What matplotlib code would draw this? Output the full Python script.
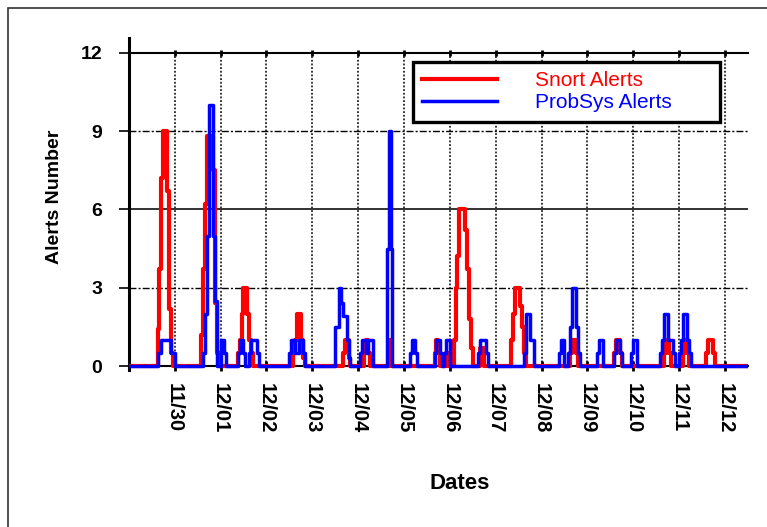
import numpy as np
import matplotlib
matplotlib.use('Agg')
import matplotlib.pyplot as plt
from matplotlib.patches import Rectangle

# hourly alert counts, hour 0 = start of 11/29 (only non-zero hours listed)
snort_hours = [15, 16, 17, 18, 19, 20, 21, 22,
               38, 39, 40, 41, 42, 43, 44, 45, 46,
               57, 58, 59, 60, 61, 62, 63, 64,
               86, 87, 88, 89, 90, 91,
               112, 113, 114, 115,
               123, 124, 125,
               136,
               160, 161, 162, 166,
               170, 171, 172, 173, 174, 175, 176, 177, 178, 179,
               184, 185,
               200, 201, 202, 203, 204, 205, 206, 207,
               231, 232, 233, 234,
               254, 255, 256, 257,
               280, 281, 282, 283, 290, 291, 292,
               302, 303, 304, 305, 306]
snort_counts = [1.4, 3.7, 7.2, 9, 9, 6.7, 2.2, 0.5,
                1.2, 3.7, 6.2, 8.8, 8.8, 8.8, 7.5, 2.4, 0.5,
                0.5, 1, 2, 3, 3, 2, 1, 0.5,
                0.5, 1, 2, 2, 1, 0.3,
                0.5, 1, 1, 0.3,
                0.5, 1, 0.5,
                1,
                0.5, 1, 0.5, 0.5,
                1, 3, 4.2, 6, 6, 6, 5.2, 3.7, 1.8, 0.7,
                0.7, 0.7,
                1, 2, 3, 3, 3, 2.3, 1.5, 0.5,
                0.5, 1, 1, 0.5,
                0.5, 1, 1, 0.5,
                0.5, 1, 1, 0.5, 0.5, 1, 0.5,
                0.5, 1, 1, 1, 0.5]

probsys_hours = [15, 16, 17, 18, 19, 20, 21, 22, 23,
                 39, 40, 41, 42, 43, 44, 45,
                 48, 49, 50,
                 57, 58, 59, 60, 63, 64, 65, 66, 67,
                 84, 85, 86, 87, 88, 89, 90, 91,
                 108, 109, 110, 111, 112, 113, 114, 115,
                 121, 122, 123, 124, 125, 126, 127,
                 135, 136, 137,
                 147, 148, 149, 150,
                 160, 161, 162, 163, 165, 166, 167,
                 183, 184, 185, 186, 187,
                 207, 208, 209, 210, 211,
                 225, 226, 227,
                 230, 231, 232, 233, 234, 235,
                 245, 246, 247,
                 254, 255, 256, 257,
                 263, 264, 265,
                 278, 279, 280, 281, 282, 283, 284, 285,
                 288, 289, 290, 291, 292, 293]
probsys_counts = [0.5, 0.5, 1, 1, 1, 1, 1, 0.5, 0.5,
                  0.5, 2, 5, 10, 10, 5, 2.5,
                  1, 1, 0.5,
                  0.5, 1, 1, 0.5, 0.5, 1, 1, 1, 0.5,
                  0.5, 1, 1, 0.5, 0.5, 1, 1, 0.5,
                  1.5, 1.5, 3, 2.4, 1.9, 1.9, 1, 0.3,
                  0.5, 1, 1, 0.5, 1, 1, 1,
                  4.5, 9, 4.5,
                  0.5, 1, 1, 0.5,
                  0.5, 1, 1, 0.5, 0.5, 1, 1,
                  0.5, 1, 1, 1, 0.5,
                  0.5, 2, 2, 1, 1,
                  0.5, 1, 1,
                  0.5, 1.5, 3, 3, 1.5, 0.5,
                  0.5, 1, 1,
                  0.5, 1, 1, 0.5,
                  0.5, 1, 1,
                  0.5, 1, 2, 2, 1, 1, 1, 0.5,
                  0.5, 1, 2, 2, 1, 0.5]

date_labels = ['11/30', '12/01', '12/02', '12/03', '12/04', '12/05', '12/06',
               '12/07', '12/08', '12/09', '12/10', '12/11', '12/12']
n_hours = 325

snort = np.zeros(n_hours)
snort[snort_hours] = snort_counts
probsys = np.zeros(n_hours)
probsys[probsys_hours] = probsys_counts
days = np.arange(n_hours) / 24.0
day_ticks = np.arange(1, len(date_labels) + 1)

plt.rcParams['font.family'] = ['Liberation Sans', 'DejaVu Sans']

fig = plt.figure(figsize=(7.67, 5.27), dpi=100)
ax = fig.add_axes([0.168, 0.298, 0.807, 0.630])

# outer frame of the picture
fig.patches.append(Rectangle((0.0104, -0.05), 1.2, 0.05 + 0.985, transform=fig.transFigure,
                             fill=False, edgecolor='#333333', lw=1.2))

# grid
ax.vlines(day_ticks, 0, 12, colors='black', linestyles=(0, (1.2, 1.2)), lw=1.1, zorder=1)
ax.hlines([3, 9], 0, 13.5, colors='black', linestyles=(0, (5, 1.5, 1.5, 1.5)), lw=1.0, zorder=1)
ax.axhline(6, color='#222222', lw=1.3, zorder=1)

ax.plot(days, snort, color='red', lw=3.0, drawstyle='steps-post', label='Snort Alerts', zorder=3)
ax.plot(days, probsys, color='blue', lw=2.5, drawstyle='steps-post', label='ProbSys Alerts', zorder=4)

ax.set_xlim(0, 13.5)
ax.set_ylim(-0.15, 12.57)
ax.spines['right'].set_visible(False)
ax.spines['top'].set_position(('data', 12))
ax.spines['top'].set_linewidth(1.5)
ax.spines['bottom'].set_position(('data', 0))
ax.spines['bottom'].set_linewidth(1.5)
ax.spines['left'].set_linewidth(2.2)

ax.set_yticks([0, 3, 6, 9, 12])
ax.set_xticks(day_ticks)
ax.set_xticklabels(date_labels, rotation=270, fontweight='bold', fontsize=14.5)
ax.set_yticklabels(['0', '3', '6', '9', '12'], fontweight='bold', fontsize=14)
ax.tick_params(axis='y', direction='out', length=7, width=1.2, pad=12)
ax.tick_params(axis='x', which='major', direction='inout', length=7, width=2, pad=9,
               top=True, labeltop=False)
for t in ax.xaxis.get_ticklines()[1::2]:
    t.set_markersize(4)

ax.set_ylabel('Alerts Number', fontweight='bold', fontsize=14)
ax.yaxis.set_label_coords(-0.106, 0.523)
ax.set_xlabel('Dates', fontweight='bold', fontsize=16)
ax.xaxis.set_label_coords(0.535, -0.31)

leg = ax.legend(loc='upper left', bbox_to_anchor=(0.459, 0.928 - 0.185, 0.496, 0.185),
                mode='expand', borderaxespad=0, fontsize=15, handlelength=3.6,
                handletextpad=1.8, borderpad=0.45, labelspacing=0.15, fancybox=False,
                framealpha=1, edgecolor='black')
leg.get_frame().set_linewidth(2.4)
leg.texts[0].set_color('red')
leg.texts[1].set_color('blue')
leg.set_zorder(5)

plt.savefig('out.png', dpi=100)
